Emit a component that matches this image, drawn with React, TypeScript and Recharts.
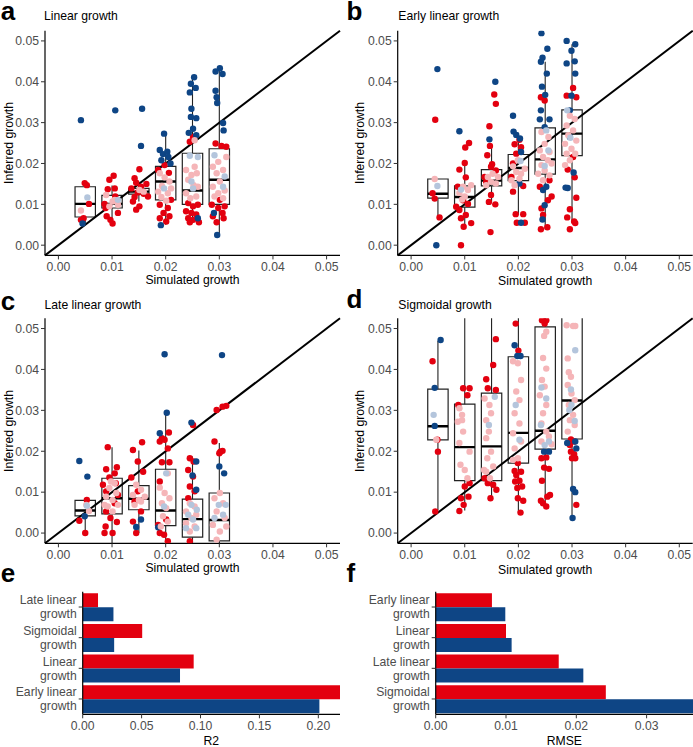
import React from 'react';
import {
  ScatterChart,
  Scatter,
  XAxis,
  YAxis,
  ReferenceLine,
  ReferenceArea,
  BarChart,
  Bar,
} from 'recharts';

const FONT = '"Liberation Sans", Arial, Helvetica, sans-serif';
const RED = '#e3000f';
const BLUE = '#0e4585';
const PINK = '#f5b5b8';
const GREY = '#b4c5dc';
const FS = 12.2;

// simulated growth rates (box centres) and axis ticks
const groups = [0.005, 0.01, 0.015, 0.02, 0.025, 0.03];
const growthTicks = [0, 0.01, 0.02, 0.03, 0.04, 0.05];
const growthDomain = [-0.0025, 0.0525];

// box stats per group: [lower whisker, q1, median, q3, upper whisker]
const linearBoxes = [
  [0.005, 0.0069, 0.0101, 0.0143, 0.0152],
  [0.0062, 0.0091, 0.0101, 0.0122, 0.0146],
  [0.0107, 0.0125, 0.0131, 0.0139, 0.0155],
  [0.005, 0.0111, 0.0156, 0.0193, 0.0273],
  [0.0054, 0.01, 0.0134, 0.0225, 0.0411],
  [0.0024, 0.01, 0.016, 0.0236, 0.0435],
];
const earlyBoxes = [
  [0.0068, 0.0115, 0.0126, 0.0162, 0.0162],
  [0.0045, 0.0093, 0.0118, 0.0145, 0.0202],
  [0.0106, 0.0145, 0.0158, 0.0185, 0.0243],
  [0.0076, 0.0158, 0.0189, 0.0222, 0.0275],
  [0.0039, 0.0174, 0.021, 0.0287, 0.0449],
  [0.0054, 0.0219, 0.0273, 0.0331, 0.0492],
];
const lateBoxes = [
  [0.0002, 0.0042, 0.0055, 0.008, 0.0082],
  [-0.004, 0.0047, 0.0085, 0.0134, 0.021],
  [0.0, 0.0057, 0.0084, 0.0116, 0.0202],
  [-0.004, 0.0018, 0.0055, 0.0156, 0.0297],
  [-0.004, -0.001, 0.0034, 0.0083, 0.0187],
  [-0.004, -0.0019, 0.0032, 0.0098, 0.022],
];
const sigmoidBoxes = [
  [0.0055, 0.0228, 0.0261, 0.0352, 0.047],
  [0.0055, 0.0128, 0.021, 0.0315, 0.06],
  [0.0085, 0.0128, 0.0212, 0.0342, 0.06],
  [0.005, 0.0171, 0.0245, 0.0431, 0.06],
  [0.0065, 0.0205, 0.025, 0.0504, 0.06],
  [0.0037, 0.023, 0.0324, 0.06, 0.07],
];

// jittered points [simulated, inferred]
const linearBlue = [
  [0.0042, 0.0306], [0.0045, 0.0053], [0.0106, 0.033], [0.0156, 0.0334], [0.0154, 0.0243],
  [0.0197, 0.0273], [0.0189, 0.0233], [0.0195, 0.0223], [0.0203, 0.0229], [0.0205, 0.0216],
  [0.0192, 0.0208], [0.0209, 0.02], [0.0191, 0.0049], [0.0253, 0.0411], [0.0247, 0.0395],
  [0.0256, 0.0385], [0.0245, 0.0374], [0.0248, 0.0334], [0.0247, 0.0314], [0.0257, 0.0311],
  [0.0251, 0.0285], [0.0243, 0.0275], [0.0257, 0.0269], [0.026, 0.0066], [0.0301, 0.0433],
  [0.0293, 0.0425], [0.0306, 0.0419], [0.0293, 0.0378], [0.0295, 0.0362], [0.0296, 0.0348],
  [0.0307, 0.0299], [0.0308, 0.0281], [0.029, 0.0079], [0.0296, 0.0025],
];
const linearRed = [
  [0.0049, 0.0152], [0.0053, 0.0147], [0.0057, 0.0101], [0.0047, 0.0066], [0.0042, 0.0062],
  [0.0103, 0.017], [0.0095, 0.016], [0.0105, 0.0139], [0.0092, 0.0137], [0.0086, 0.0101],
  [0.0111, 0.0079], [0.009, 0.0071], [0.0097, 0.0062], [0.0101, 0.0053], [0.0106, 0.0119],
  [0.0088, 0.0091], [0.0151, 0.0186], [0.0142, 0.0164], [0.0145, 0.0153], [0.0154, 0.0143],
  [0.0164, 0.015], [0.0136, 0.0139], [0.0148, 0.0129], [0.0159, 0.0126], [0.0142, 0.0118],
  [0.0167, 0.0119], [0.0139, 0.0107], [0.0151, 0.0095], [0.0145, 0.0087], [0.0198, 0.0196],
  [0.0186, 0.0184], [0.0206, 0.0177], [0.0189, 0.0099], [0.0204, 0.0091], [0.0196, 0.0079],
  [0.0189, 0.0066], [0.0207, 0.0071], [0.0201, 0.0058], [0.021, 0.0111], [0.0251, 0.0265],
  [0.0245, 0.0253], [0.0242, 0.0103], [0.0251, 0.0095], [0.026, 0.0099], [0.0238, 0.0083],
  [0.0248, 0.0079], [0.0257, 0.0075], [0.0242, 0.0066], [0.0251, 0.0062], [0.0262, 0.0056],
  [0.0245, 0.0056], [0.0293, 0.0249], [0.0304, 0.0243], [0.0313, 0.0241], [0.0286, 0.0099],
  [0.0298, 0.0091], [0.0306, 0.0079], [0.0288, 0.0071], [0.0308, 0.0066], [0.0295, 0.0056],
  [0.031, 0.0095], [0.0301, 0.0111],
];
const linearPink = [
  [0.0042, 0.0085], [0.0089, 0.0123], [0.0105, 0.0111], [0.0111, 0.0099], [0.0095, 0.0095],
  [0.0101, 0.0107], [0.0151, 0.0135], [0.0159, 0.0131], [0.0189, 0.0176], [0.0198, 0.0166],
  [0.0207, 0.0156], [0.0193, 0.0145], [0.0186, 0.0131], [0.0204, 0.0127], [0.0192, 0.0118],
  [0.0201, 0.0109], [0.021, 0.0139], [0.0254, 0.0257], [0.0238, 0.0184], [0.0248, 0.0172],
  [0.0258, 0.0176], [0.0242, 0.016], [0.0252, 0.0147], [0.026, 0.0143], [0.0238, 0.0127],
  [0.0257, 0.0119], [0.0246, 0.0115], [0.0254, 0.0192], [0.0313, 0.0216], [0.0298, 0.0204],
  [0.0288, 0.0192], [0.0307, 0.0184], [0.0295, 0.0176], [0.0301, 0.0156], [0.0288, 0.0143],
  [0.031, 0.0134], [0.0298, 0.0127], [0.0291, 0.0119], [0.0307, 0.0115],
];
const linearGrey = [
  [0.0054, 0.0117], [0.0197, 0.0139], [0.0245, 0.0219], [0.026, 0.0216], [0.0248, 0.0156],
  [0.0251, 0.0139], [0.0291, 0.022], [0.031, 0.0168], [0.0307, 0.0143], [0.0111, 0.0111],
];

const earlyBlue = [
  [0.0049, 0.0431], [0.0047, 0.0], [0.009, 0.0279], [0.0146, 0.0259], [0.0157, 0.04],
  [0.019, 0.0317], [0.0191, 0.0278], [0.0196, 0.027], [0.0203, 0.0261], [0.0205, 0.0228],
  [0.0202, 0.0151], [0.0205, 0.0055], [0.0243, 0.0519], [0.0245, 0.0459], [0.0242, 0.0449],
  [0.0254, 0.0481], [0.0253, 0.042], [0.0244, 0.0388], [0.025, 0.0368], [0.0242, 0.033],
  [0.024, 0.0308], [0.0258, 0.0308], [0.0249, 0.0289], [0.0246, 0.0135], [0.0249, 0.0098],
  [0.0245, 0.0063], [0.0252, 0.0143], [0.029, 0.05], [0.0306, 0.0492], [0.0299, 0.0476],
  [0.029, 0.0445], [0.0305, 0.045], [0.0306, 0.042], [0.0299, 0.0366], [0.0296, 0.033],
  [0.0296, 0.0265], [0.0303, 0.0178], [0.0292, 0.014], [0.0288, 0.0141],
];
const earlyRed = [
  [0.0045, 0.0307], [0.004, 0.0127], [0.0044, 0.0114], [0.0053, 0.0068], [0.0093, 0.0],
  [0.0108, 0.025], [0.0101, 0.0239], [0.01, 0.0201], [0.009, 0.0185], [0.0102, 0.0166],
  [0.0087, 0.0143], [0.0097, 0.011], [0.0106, 0.0101], [0.009, 0.0086], [0.0102, 0.0074],
  [0.0093, 0.0066], [0.0112, 0.0054], [0.0098, 0.0045], [0.0084, 0.0094], [0.0146, 0.0291],
  [0.0155, 0.0369], [0.0158, 0.0346], [0.0147, 0.0243], [0.0142, 0.022], [0.0151, 0.0198],
  [0.0149, 0.0192], [0.0158, 0.0183], [0.0137, 0.0167], [0.0149, 0.0123], [0.0148, 0.0032],
  [0.0157, 0.01], [0.0145, 0.0106], [0.014, 0.0155], [0.019, 0.02], [0.0202, 0.0258],
  [0.0193, 0.0247], [0.0205, 0.024], [0.0196, 0.0224], [0.019, 0.0131], [0.0209, 0.0145],
  [0.0195, 0.0076], [0.0209, 0.0076], [0.0197, 0.0055], [0.0212, 0.0055], [0.0187, 0.0167],
  [0.0242, 0.0362], [0.0249, 0.0354], [0.0243, 0.009], [0.0242, 0.0039], [0.0254, 0.0044],
  [0.0258, 0.0159], [0.024, 0.0143], [0.0262, 0.0119], [0.0246, 0.0074], [0.0255, 0.011],
  [0.0302, 0.0385], [0.029, 0.0366], [0.0308, 0.0362], [0.0292, 0.0185], [0.0308, 0.0116],
  [0.0296, 0.0088], [0.0291, 0.0068], [0.0304, 0.0058], [0.0306, 0.0054], [0.0296, 0.0039],
  [0.0305, 0.0166], [0.0302, 0.0216],
];
const earlyPink = [
  [0.0044, 0.0162], [0.0097, 0.0143], [0.0106, 0.0135], [0.009, 0.0128], [0.01, 0.0119],
  [0.0112, 0.0147], [0.0095, 0.0112], [0.0152, 0.0175], [0.0143, 0.0167], [0.0162, 0.0167],
  [0.0149, 0.0155], [0.0158, 0.0151], [0.014, 0.0147], [0.0199, 0.0208], [0.019, 0.0193],
  [0.0212, 0.0187], [0.0196, 0.0179], [0.0205, 0.0175], [0.0187, 0.0159], [0.0202, 0.0163],
  [0.0193, 0.0147], [0.0243, 0.0277], [0.0256, 0.0265], [0.0249, 0.0248], [0.024, 0.0232],
  [0.0258, 0.0228], [0.0246, 0.0216], [0.0255, 0.0208], [0.0243, 0.0196], [0.0262, 0.02],
  [0.0249, 0.0183], [0.0237, 0.0175], [0.0258, 0.0171], [0.0246, 0.0159], [0.0296, 0.0317],
  [0.0305, 0.0309], [0.029, 0.0293], [0.0302, 0.0281], [0.0293, 0.0269], [0.0308, 0.0256],
  [0.0287, 0.0248], [0.0299, 0.0236], [0.029, 0.0224], [0.0306, 0.0224], [0.0296, 0.0208],
  [0.0287, 0.0196],
];
const earlyGrey = [
  [0.0049, 0.0145], [0.0093, 0.0136], [0.0204, 0.0206], [0.0252, 0.0281], [0.0256, 0.0232],
  [0.0249, 0.0194], [0.0297, 0.0263], [0.0291, 0.033],
];

const lateBlue = [
  [0.0039, 0.0176], [0.0054, 0.0138], [0.0049, 0.0041], [0.0198, 0.0437], [0.0202, 0.0294],
  [0.0189, 0.0244], [0.0186, 0.0014], [0.0248, 0.027], [0.0257, 0.0175], [0.025, 0.0141],
  [0.0257, 0.0106], [0.0305, 0.0435], [0.03, 0.0163], [0.0309, 0.0146], [0.0145, 0.0015],
  [0.0154, 0.0033],
];
const lateRed = [
  [0.0039, 0.003], [0.0053, 0.0081], [0.005, 0.0], [0.0092, 0.021], [0.0109, 0.0161],
  [0.0089, 0.0156], [0.0105, 0.0146], [0.0095, 0.0136], [0.0107, 0.0122], [0.0083, 0.0118],
  [0.0089, 0.0102], [0.0105, 0.0073], [0.0089, 0.0053], [0.0097, 0.0037], [0.0109, 0.0027],
  [0.0088, 0.0016], [0.0101, 0.0], [0.0086, 0.0], [0.0111, 0.0093], [0.0156, 0.0222],
  [0.0139, 0.0203], [0.0148, 0.0175], [0.0158, 0.015], [0.0136, 0.0136], [0.0148, 0.0102],
  [0.0142, 0.0077], [0.0154, 0.0053], [0.0139, 0.0028], [0.0145, 0.0], [0.0193, 0.0232],
  [0.0189, 0.0224], [0.0198, 0.0228], [0.0206, 0.0246], [0.0204, 0.0207], [0.0193, 0.0173],
  [0.0207, 0.0173], [0.0189, 0.0126], [0.0186, 0.002], [0.0189, 0.0], [0.0197, -0.0004],
  [0.0204, -0.002], [0.0201, 0.0033], [0.0251, 0.0264], [0.0245, 0.0183], [0.0252, 0.0175],
  [0.0242, 0.0154], [0.0251, 0.0138], [0.0245, 0.0114], [0.0254, 0.0102], [0.0242, 0.0085],
  [0.0245, -0.002], [0.0291, 0.0224], [0.0302, 0.0199], [0.0306, 0.0201], [0.0295, 0.0301],
  [0.0306, 0.0309], [0.0313, 0.0311], [0.03, 0.0195],
];
const latePink = [
  [0.0052, 0.0069], [0.0057, 0.0054], [0.0105, 0.0122], [0.0095, 0.011], [0.0108, 0.0098],
  [0.0089, 0.0089], [0.0101, 0.0081], [0.0111, 0.0069], [0.0092, 0.0065], [0.0101, 0.0053],
  [0.0086, 0.0069], [0.0098, 0.0126], [0.0145, 0.0118], [0.0154, 0.0106], [0.0139, 0.0093],
  [0.015, 0.0081], [0.0161, 0.0089], [0.0142, 0.0069], [0.0154, 0.0077], [0.0204, 0.0146],
  [0.0189, 0.0111], [0.0198, 0.0098], [0.0207, 0.0085], [0.0193, 0.0073], [0.0201, 0.0061],
  [0.0195, 0.0041], [0.0204, 0.0028], [0.0191, 0.0016], [0.0245, 0.0073], [0.0254, 0.0065],
  [0.0238, 0.0053], [0.0257, 0.0045], [0.0248, 0.0037], [0.0238, 0.0024], [0.0254, 0.0016],
  [0.0245, 0.0004], [0.0301, 0.0098], [0.0291, 0.0085], [0.0307, 0.0073], [0.0295, 0.0053],
  [0.031, 0.0037], [0.0288, 0.002], [0.0301, 0.0004], [0.0313, 0.0016], [0.0295, -0.0016],
];
const lateGrey = [
  [0.0053, 0.0067], [0.0201, 0.0146], [0.0197, 0.0065], [0.0248, 0.0069], [0.0258, 0.0057],
  [0.0242, 0.0045], [0.0251, 0.0033], [0.0238, 0.0012], [0.0257, 0.0012], [0.0299, 0.0069],
  [0.0307, 0.0045], [0.0291, 0.0037], [0.0312, 0.0069],
];

const sigmoidBlue = [
  [0.0055, 0.0472], [0.0044, 0.0355], [0.0044, 0.0262], [0.0193, 0.0459], [0.0198, 0.0433],
  [0.0204, 0.0433], [0.0248, 0.0199], [0.0257, 0.0199], [0.0306, 0.0224], [0.0291, 0.022],
  [0.0308, 0.0207], [0.0302, 0.0108], [0.0306, 0.01], [0.0301, 0.0037],
];
const sigmoidRed = [
  [0.004, 0.042], [0.005, 0.0199], [0.0049, 0.0228], [0.0045, 0.0053], [0.009, 0.0054],
  [0.0098, 0.0069], [0.0093, 0.0085], [0.0107, 0.0089], [0.01, 0.0114], [0.0109, 0.0122],
  [0.0105, 0.0337], [0.0109, 0.0354], [0.0097, 0.0354], [0.0088, 0.0313], [0.014, 0.0376],
  [0.0153, 0.0411], [0.0158, 0.0474], [0.0143, 0.0354], [0.0158, 0.035], [0.0143, 0.0122],
  [0.0153, 0.0118], [0.0159, 0.0106], [0.0148, 0.0085], [0.0137, 0.0134], [0.0195, 0.0512],
  [0.02, 0.0446], [0.0199, 0.0171], [0.0193, 0.0152], [0.0205, 0.015], [0.0196, 0.0142],
  [0.0202, 0.0128], [0.0198, 0.011], [0.0207, 0.0114], [0.0199, 0.0085], [0.0209, 0.0079],
  [0.0204, 0.005], [0.0194, 0.0126], [0.0244, 0.052], [0.0252, 0.052], [0.0249, 0.0512],
  [0.0243, 0.0183], [0.0252, 0.0185], [0.0248, 0.016], [0.0257, 0.0157], [0.0244, 0.0128],
  [0.0242, 0.0079], [0.0246, 0.0073], [0.0252, 0.0065], [0.0259, 0.0093], [0.0254, 0.0089],
  [0.0298, 0.0229], [0.0304, 0.0224], [0.0298, 0.0199], [0.0304, 0.0193], [0.03, 0.0183],
  [0.0306, 0.0183], [0.0308, 0.0069], [0.0296, 0.0215],
];
const sigmoidPink = [
  [0.0047, 0.0228], [0.009, 0.0305], [0.0095, 0.0289], [0.0087, 0.0272], [0.0097, 0.0248],
  [0.009, 0.022], [0.0109, 0.0199], [0.0092, 0.0167], [0.01, 0.0154], [0.0105, 0.0134],
  [0.0095, 0.0276], [0.0137, 0.0329], [0.0146, 0.0313], [0.0149, 0.0293], [0.014, 0.0276],
  [0.0145, 0.0248], [0.014, 0.0232], [0.0149, 0.0199], [0.0142, 0.0183], [0.0153, 0.0163],
  [0.014, 0.015], [0.0147, 0.0134], [0.0136, 0.0154], [0.0199, 0.0415], [0.019, 0.042],
  [0.0205, 0.0374], [0.0196, 0.0346], [0.0202, 0.0325], [0.0193, 0.0293], [0.0202, 0.0268],
  [0.019, 0.0244], [0.0205, 0.0224], [0.0193, 0.0207], [0.0199, 0.0183], [0.019, 0.0179],
  [0.0248, 0.0482], [0.0252, 0.0492], [0.0246, 0.0428], [0.0252, 0.0402], [0.0244, 0.0374],
  [0.0249, 0.0358], [0.024, 0.0337], [0.0252, 0.0313], [0.0246, 0.0293], [0.0243, 0.0268],
  [0.0252, 0.0248], [0.0257, 0.0236], [0.0243, 0.0224], [0.0262, 0.0217], [0.029, 0.0508],
  [0.0302, 0.0506], [0.0306, 0.0506], [0.0292, 0.0427], [0.0294, 0.0393], [0.0298, 0.0382],
  [0.0292, 0.0362], [0.0299, 0.0341], [0.0305, 0.0325], [0.0294, 0.0313], [0.0302, 0.0289],
  [0.0296, 0.0276], [0.0305, 0.0264], [0.0292, 0.0248],
];
const sigmoidGrey = [
  [0.0042, 0.0289], [0.0145, 0.0264], [0.0156, 0.0333], [0.0195, 0.0313], [0.0202, 0.0228],
  [0.0243, 0.0356], [0.0252, 0.0329], [0.0242, 0.0264], [0.0257, 0.0224], [0.0249, 0.0215],
  [0.0306, 0.0447], [0.0299, 0.0313], [0.0305, 0.0274], [0.0298, 0.0351], [0.0295, 0.0301],
];

// bar panels
const r2Models = ['Late linear growth', 'Sigmoidal growth', 'Linear growth', 'Early linear growth'];
const r2Red = [0.013, 0.0505, 0.0942, 0.2184];
const r2Blue = [0.0261, 0.0267, 0.0826, 0.2009];
const r2Ticks = [0, 0.05, 0.1, 0.15, 0.2];

const rmseModels = ['Early linear growth', 'Linear growth', 'Late linear growth', 'Sigmoidal growth'];
const rmseRed = [0.008, 0.01, 0.0175, 0.0242];
const rmseBlue = [0.0099, 0.0108, 0.021, 0.0366];
const rmseTicks = [0, 0.01, 0.02, 0.03];

const fmt2 = (v: number) => v.toFixed(2);
const toXY = (pts: number[][]) => pts.map(([x, y]) => ({ x, y }));
const tickStyle = { fill: '#4d4d4d', fontSize: FS, fontFamily: FONT };
const axisLine = { stroke: '#000', strokeWidth: 1.2 };
const tickLine = { stroke: '#333' };
const HW = 0.0019;

const dot = (color: string) => (p: any) => <circle cx={p.cx} cy={p.cy} r={3.2} fill={color} />;

// y is the text baseline; for rotated text (x, y) is the centre
const Txt = ({ x, y, size = FS, bold = false, anchor = 'start', rotate = false, lh = 1, children }: any) => {
  const base: any = {
    position: 'absolute', fontSize: size, lineHeight: lh, fontFamily: FONT,
    fontWeight: bold ? 700 : 400, color: '#000', whiteSpace: 'nowrap',
  };
  if (rotate) {
    return (
      <div style={{ ...base, left: x, top: y, transform: 'translate(-50%, -50%) rotate(-90deg)' }}>
        {children}
      </div>
    );
  }
  const top = y - ((lh - 1.117) * size) / 2 - 0.905 * size;
  return (
    <div style={{ ...base, left: x, top, transform: anchor === 'middle' ? 'translateX(-50%)' : undefined }}>
      {children}
    </div>
  );
};

function GrowthPanel({ left, top, width, height, plot, blue, red, pink, grey, boxes }: any) {
  const margin = { top: plot.top, right: width - plot.right, bottom: height - plot.bottom - 20, left: 0 };
  const series = [
    { pts: red, color: RED },
    { pts: blue, color: BLUE },
    { pts: pink, color: PINK },
    { pts: grey, color: GREY },
  ];
  return (
    <div style={{ position: 'absolute', left, top }}>
      <ScatterChart width={width} height={height} margin={margin}>
        <XAxis
          type="number" dataKey="x" domain={growthDomain} ticks={growthTicks} allowDataOverflow
          tickFormatter={fmt2} height={20} tick={tickStyle} tickSize={4} tickMargin={3}
          axisLine={axisLine} tickLine={tickLine}
        />
        <YAxis
          type="number" dataKey="y" domain={growthDomain} ticks={growthTicks} allowDataOverflow
          tickFormatter={fmt2} width={plot.left} tick={tickStyle} tickSize={4} tickMargin={2}
          axisLine={axisLine} tickLine={tickLine}
        />
        {series.map((s, i) => (
          <Scatter key={i} data={toXY(s.pts)} shape={dot(s.color)} isAnimationActive={false} />
        ))}
        {groups.map((c, i) => {
          const [lo, q1, med, q3, hi] = boxes[i];
          return (
            <React.Fragment key={i}>
              <ReferenceLine segment={[{ x: c, y: lo }, { x: c, y: q1 }]} stroke="#222" strokeWidth={1.1} ifOverflow="hidden" />
              <ReferenceLine segment={[{ x: c, y: q3 }, { x: c, y: hi }]} stroke="#222" strokeWidth={1.1} ifOverflow="hidden" />
              <ReferenceArea x1={c - HW} x2={c + HW} y1={q1} y2={q3} fill="none" fillOpacity={0} stroke="#222" strokeWidth={1.2} strokeOpacity={1} ifOverflow="hidden" />
              <ReferenceLine segment={[{ x: c - HW, y: med }, { x: c + HW, y: med }]} stroke="#000" strokeWidth={2.4} ifOverflow="hidden" />
            </React.Fragment>
          );
        })}
        <ReferenceLine
          segment={[{ x: growthDomain[0], y: growthDomain[0] }, { x: growthDomain[1], y: growthDomain[1] }]}
          stroke="#000" strokeWidth={2}
        />
      </ScatterChart>
    </div>
  );
}

const TwoLineTick = (props: any) => {
  const { x, y, payload } = props;
  const s = String(payload.value);
  const k = s.lastIndexOf(' ');
  return (
    <text x={x} y={y} textAnchor="end" fill="#4d4d4d" fontSize={FS} fontFamily={FONT}>
      <tspan x={x} dy={-2.8}>{s.slice(0, k)}</tspan>
      <tspan x={x} dy={14}>{s.slice(k + 1)}</tspan>
    </text>
  );
};

function ModelBars({ left, top, width, height, plot, names, red, blue, max, ticks }: any) {
  const data = names.map((name: string, i: number) => ({ name, red: red[i], blue: blue[i] }));
  return (
    <div style={{ position: 'absolute', left, top }}>
      <BarChart
        layout="vertical" width={width} height={height} data={data}
        margin={{ top: plot.top, right: width - plot.right, bottom: height - plot.bottom - 18, left: 0 }}
        barCategoryGap={1.6} barGap={0}
      >
        <XAxis
          type="number" domain={[0, max]} ticks={ticks} allowDataOverflow tickFormatter={fmt2}
          height={18} tick={tickStyle} tickSize={4} tickMargin={3}
          axisLine={axisLine} tickLine={tickLine}
        />
        <YAxis
          type="category" dataKey="name" width={plot.left} tick={<TwoLineTick />} tickSize={4} tickMargin={2}
          axisLine={axisLine} tickLine={tickLine}
        />
        <Bar dataKey="red" fill={RED} isAnimationActive={false} />
        <Bar dataKey="blue" fill={BLUE} isAnimationActive={false} />
      </BarChart>
    </div>
  );
}

export default function App() {
  return (
    <div style={{ position: 'absolute', left: 0, top: 0, width: 693, height: 747, background: '#fff', overflow: 'hidden' }}>
      <GrowthPanel
        left={0} top={0} width={345} height={290}
        plot={{ left: 45, top: 30.7, right: 340, bottom: 255.4 }}
        blue={linearBlue} red={linearRed} pink={linearPink} grey={linearGrey} boxes={linearBoxes}
      />
      <GrowthPanel
        left={345} top={0} width={348} height={290}
        plot={{ left: 52.7, top: 30.7, right: 347.7, bottom: 255.4 }}
        blue={earlyBlue} red={earlyRed} pink={earlyPink} grey={earlyGrey} boxes={earlyBoxes}
      />
      <GrowthPanel
        left={0} top={285} width={345} height={295}
        plot={{ left: 45, top: 33.3, right: 340, bottom: 258.3 }}
        blue={lateBlue} red={lateRed} pink={latePink} grey={lateGrey} boxes={lateBoxes}
      />
      <GrowthPanel
        left={345} top={285} width={348} height={295}
        plot={{ left: 52.7, top: 33.3, right: 347.7, bottom: 258.3 }}
        blue={sigmoidBlue} red={sigmoidRed} pink={sigmoidPink} grey={sigmoidGrey} boxes={sigmoidBoxes}
      />
      <ModelBars
        left={0} top={580} width={345} height={167}
        plot={{ left: 82.7, top: 11.7, right: 340, bottom: 134.3 }}
        names={r2Models} red={r2Red} blue={r2Blue} max={0.2184} ticks={r2Ticks}
      />
      <ModelBars
        left={345} top={580} width={348} height={167}
        plot={{ left: 90.7, top: 11.7, right: 348, bottom: 134.3 }}
        names={rmseModels} red={rmseRed} blue={rmseBlue} max={0.0366} ticks={rmseTicks}
      />

      {/* panel letters */}
      <Txt x={0.7} y={20.5} size={26} bold lh={0.85}>a</Txt>
      <Txt x={346.6} y={20.5} size={26} bold lh={0.85}>b</Txt>
      <Txt x={0.7} y={310} size={26} bold lh={0.85}>c</Txt>
      <Txt x={346.6} y={308.5} size={26} bold lh={0.85}>d</Txt>
      <Txt x={0.7} y={582} size={26} bold lh={0.85}>e</Txt>
      <Txt x={346.6} y={582} size={26} bold lh={0.85}>f</Txt>

      {/* panel titles */}
      <Txt x={44} y={20.8}>Linear growth</Txt>
      <Txt x={398.3} y={20.8}>Early linear growth</Txt>
      <Txt x={44.5} y={309.5}>Late linear growth</Txt>
      <Txt x={398.3} y={309.5}>Sigmoidal growth</Txt>

      {/* axis titles */}
      <Txt x={192.5} y={284} anchor="middle">Simulated growth</Txt>
      <Txt x={545.2} y={285} anchor="middle">Simulated growth</Txt>
      <Txt x={192.5} y={572.3} anchor="middle">Simulated growth</Txt>
      <Txt x={545.2} y={574.3} anchor="middle">Simulated growth</Txt>
      <Txt x={9.1} y={143} rotate>Inferred growth</Txt>
      <Txt x={360} y={143} rotate>Inferred growth</Txt>
      <Txt x={9.1} y={430.8} rotate>Inferred growth</Txt>
      <Txt x={360} y={430.8} rotate>Inferred growth</Txt>
      <Txt x={211.3} y={745.5} anchor="middle" lh={0.9}>R2</Txt>
      <Txt x={564.3} y={745.5} anchor="middle" lh={0.9}>RMSE</Txt>
    </div>
  );
}
